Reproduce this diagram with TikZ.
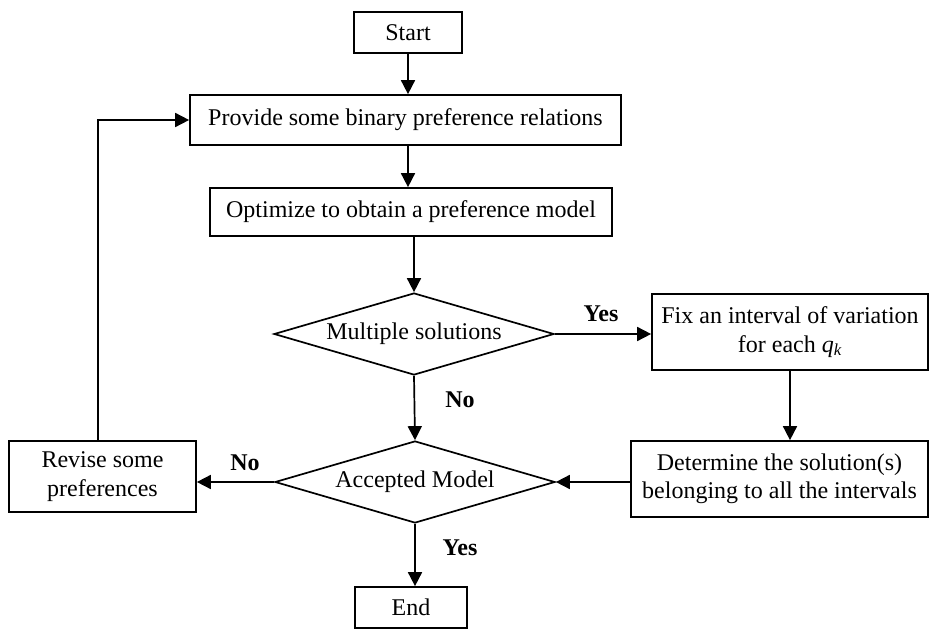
\documentclass[tikz,border=0pt]{standalone}
\usepackage{fontspec}
\setmainfont{Liberation Serif}
\usetikzlibrary{shapes.geometric,arrows.meta}
\begin{document}
\begin{tikzpicture}[x=1pt,y=-1pt,
  txt/.style={font=\fontsize{24}{28.5}\selectfont},
  box/.style={txt,draw,line width=1.7pt,inner sep=0pt,align=center},
  dec/.style={txt,diamond,draw,line width=1.7pt,inner sep=0pt,aspect=3.4,minimum width=280pt,minimum height=82pt},
  arr/.style={line width=1.7pt,-{Triangle[length=14pt,width=14pt]}},
  lbl/.style={font=\bfseries\fontsize{24}{28.5}\selectfont}]
\useasboundingbox (0,0) rectangle (936,631);
\node[box,minimum width=108pt,minimum height=41pt] (start) at (408,32.5) {Start};
\node[box,minimum width=431pt,minimum height=50pt] (provide) at (405.5,120) {Provide some binary preference relations};
\node[box,minimum width=402pt,minimum height=48pt] (optimize) at (411,212) {Optimize to obtain a preference model};
\node[dec] (multi) at (414,334) {Multiple solutions};
\node[box,minimum width=276pt,minimum height=76pt] (fix) at (790,332) {Fix an interval of variation\\for each \textit{q}\textsubscript{\textit{k}}};
\node[dec] (acc) at (415,482) {Accepted Model};
\node[box,minimum width=297pt,minimum height=76pt] (det) at (779.5,479) {Determine the solution(s)\\belonging to all the intervals};
\node[box,minimum width=187pt,minimum height=71pt] (revise) at (102.5,476.5) {Revise some\\preferences};
\node[box,minimum width=112pt,minimum height=41pt] (end) at (411,607.5) {End};
\coordinate (rtop) at ([xshift=-4.5pt]revise.north);
\draw[arr] (start.south) -- (start.south |- provide.north);
\draw[arr] (start.south |- provide.south) -- (start.south |- optimize.north);
\draw[arr] (multi.north |- optimize.south) -- (multi.north);
\draw[arr] (multi.east) -- (multi.east -| fix.west);
\node[lbl] (yes1) at (601,314) {Yes};
\draw[arr] (fix.south) -- (fix.south |- det.north);
\draw[arr] (det.west |- acc.east) -- (acc.east);
\draw[arr] (multi.south) -- (acc.north);
\node[lbl] (no1) at (460,400) {No};
\draw[arr] (acc.west) -- (acc.west -| revise.east);
\node[lbl] (no2) at (245,463) {No};
\draw[arr] (rtop) |- (provide.west);
\draw[arr] (acc.south) -- (acc.south |- end.north);
\node[lbl] (yes2) at (460,548) {Yes};
\end{tikzpicture}
\end{document}
